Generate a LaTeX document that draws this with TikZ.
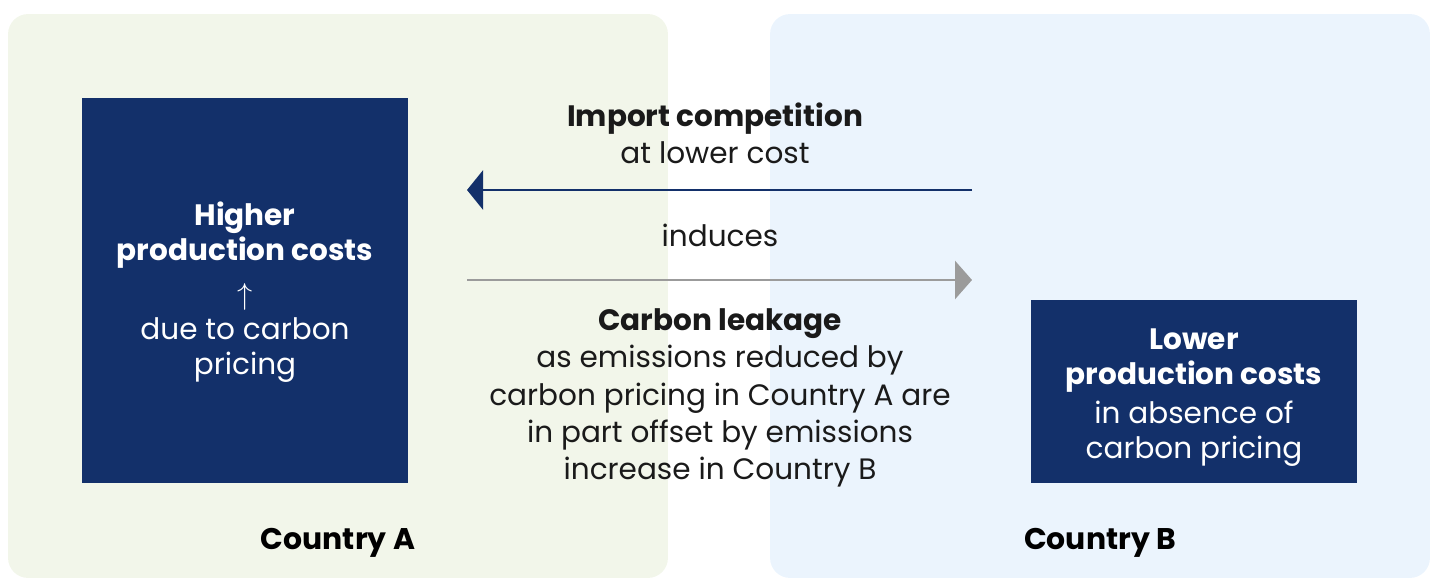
\documentclass[tikz,border=0pt]{standalone}
\usepackage{fontspec}
\setmainfont{Poppins}
\usetikzlibrary{arrows.meta, positioning}
\definecolor{navy}{HTML}{13306A}
\definecolor{paleA}{HTML}{F2F6EA}
\definecolor{paleB}{HTML}{EBF4FD}
\definecolor{arrowgrey}{HTML}{9B9B9B}
\definecolor{inktext}{HTML}{1A1A1A}

\begin{document}
\begin{tikzpicture}[
    x=0.02cm, y=-0.02cm,
    every node/.style={font=\fontsize{17}{20}\selectfont, inner sep=0pt, text=inktext},
    panel/.style={rounded corners=0.4cm, minimum width=13.2cm, minimum height=11.28cm},
    costbox/.style={fill=navy, align=center, font=\fontsize{16.8}{20}\selectfont},
    caption/.style={align=center, font=\fontsize{16.8}{21.2}\selectfont},
    country/.style={font=\fontsize{17}{20}\selectfont\bfseries, text=black},
    flow/.style={line width=1.7pt}
]
    \useasboundingbox (0,0) rectangle (1440,587);

    % --- Country panels ---
    \node[panel, fill=paleA] (panelA) at (338,296) {};
    \node[panel, fill=paleB] (panelB) at (1100,296) {};

    % --- Cost boxes ---
    \node[costbox, minimum width=6.52cm, minimum height=7.7cm] (costA) at (245,290.5)
        {\color{white}\rule{0pt}{15pt}\textbf{Higher}\\\color{white}\textbf{production costs}\\[5pt]
         \color{white}$\uparrow$\\\color{white}due to carbon\\\color{white}pricing};
    \node[costbox, minimum width=6.52cm, minimum height=3.66cm] (costB) at (1194,391.5)
        {\color{white}\rule{0pt}{19pt}\textbf{Lower}\\\color{white}\textbf{production costs}\\[2pt]
         \color{white}in absence of\\\color{white}carbon pricing};

    \node[country] (labelA) at (338,543) {Country A};
    \node[country] (labelB) at (1100,543) {Country B};

    % --- Flows between countries ---
    \coordinate (impFrom) at (972,190);
    \coordinate (impTo) at (467,190);
    \coordinate (leakFrom) at (467,280);
    \coordinate (leakTo) at (972,280);

    \draw[flow, navy, -{Triangle[length=0.32cm, width=0.78cm]}] (impFrom) -- (impTo);
    \draw[flow, arrowgrey, -{Triangle[length=0.34cm, width=0.76cm]}] (leakFrom) -- (leakTo);

    \node[caption] (importTxt) at (715,133) {\textbf{Import competition}\\at lower cost};
    \node[caption] (inducesTxt) at (720,235) {induces};
    \node[caption] (leakTxt) at (720,398)
        {\textbf{Carbon leakage}\\as emissions reduced by\\carbon pricing in Country A are\\
         in part offset by emissions\\increase in Country B};
\end{tikzpicture}
\end{document}
